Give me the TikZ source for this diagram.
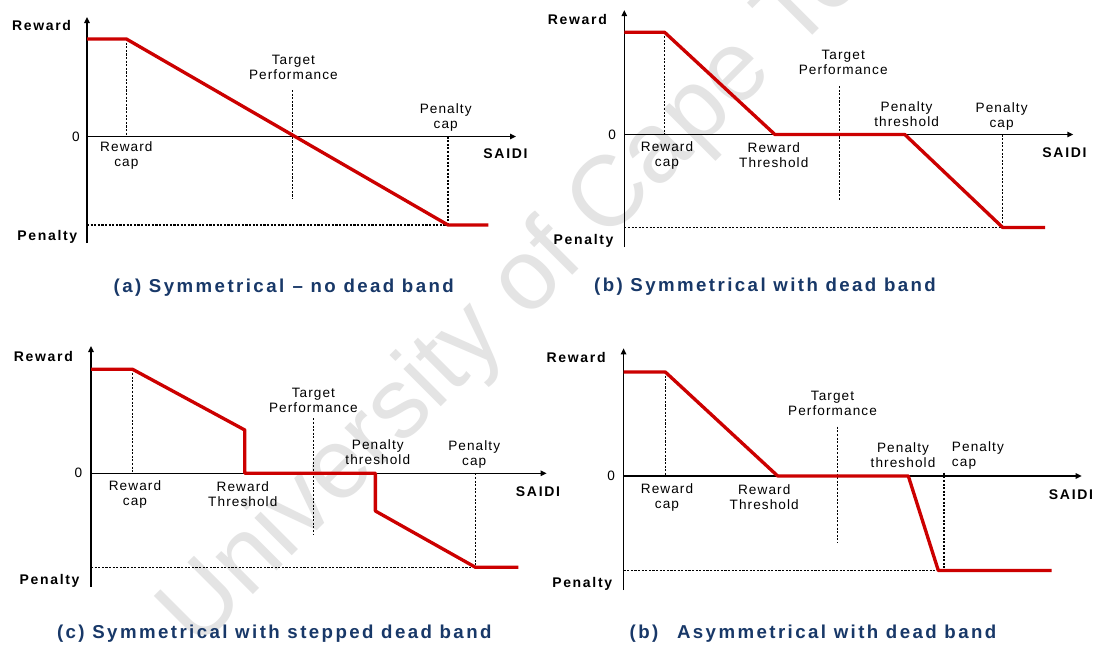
\documentclass[tikz,border=0pt]{standalone}
\usepackage{fontspec}
\setmainfont{Liberation Sans}
\newfontfamily\lblfam[LetterSpace=8]{Liberation Sans}
\newfontfamily\axfam[LetterSpace=12]{Liberation Sans}
\newfontfamily\capfam[LetterSpace=13]{Liberation Sans}
\usetikzlibrary{arrows.meta}
\definecolor{capblue}{RGB}{24,56,104}
\definecolor{curvered}{RGB}{204,0,0}
\definecolor{markgray}{RGB}{228,228,228}
\newcommand\lblfont{\lblfam\fontsize{10.2}{11.25}\selectfont}
\newcommand\axfont{\axfam\bfseries\fontsize{10.5}{12}\selectfont}
\newcommand\capfont{\capfam\bfseries\fontsize{14}{15}\selectfont}
\tikzset{
  axis/.style={line width=1.1pt,-{Triangle[length=4.5pt,width=4pt]}},
  vaxis/.style={line width=1.1pt},
  curve/.style={curvered,line width=2.5pt,line join=round},
  guide/.style={line width=0.85pt,dash pattern=on 1.6pt off 1.1pt},
  lab/.style={font=\lblfont,align=center,inner sep=0pt},
  axlab/.style={font=\axfont,inner sep=0pt},
  caption/.style={font=\capfont,text=capblue,inner sep=0pt},
  wmark/.style={font=\fontsize{75}{75}\selectfont,text=markgray,inner sep=0pt,rotate=45,anchor=base west}
}
\begin{document}
\begin{tikzpicture}[x=0.75pt,y=-0.75pt]
\useasboundingbox (0,0) rectangle (1098,646);
\fill[white] (0,0) rectangle (1098,646);

% watermark behind the four charts
\node[wmark] (wm) at (197,651) {University of Cape Town};

% ---------------- (a) symmetrical, no dead band ----------------
\coordinate (aO) at (87,136.5);
\coordinate (aT) at (87,17);
\coordinate (aB) at (87,243);
\coordinate (aX) at (516,136.5);
\coordinate (aR0) at (87,39);
\coordinate (aR1) at (126.4,39);
\coordinate (aP1) at (448,225);
\coordinate (aP2) at (488.3,225);
\coordinate (aPL) at (87,225);
\coordinate (aRC) at (126.4,136.5);
\coordinate (aPC) at (448,136.5);
\coordinate (aTt) at (292.7,90);
\coordinate (aTb) at (292.7,199);
\draw[guide] (aR1) -- (aRC);
\draw[guide] (aTt) -- (aTb);
\draw[guide] (aPC) -- (aP1);
\draw[guide] (aPL) -- (aP1);
\draw[vaxis] (aB) -- (aO);
\draw[axis] (aO) -- (aT);
\draw[axis] (aO) -- (aX);
\draw[curve] (aR0) -- (aR1) -- (aP1) -- (aP2);
\node[axlab] (aRew) at (41.5,25) {Reward};
\node[lab] (aZero) at (75.8,137) {0};
\node[axlab] (aPen) at (47.3,237) {Penalty};
\node[lab] (aRcap) at (126.4,155.5) {Reward\\cap};
\node[lab] (aTgt) at (293.4,67.5) {Target\\Performance};
\node[lab] (aPcap) at (445.7,117.5) {Penalty\\cap};
\node[axlab] (aSaidi) at (505.5,154) {SAIDI};
\node[caption] (aCap) at (283.8,288) {(a) Symmetrical\hspace{0.45em}\textendash\ no dead band};

% ---------------- (b) symmetrical with dead band ----------------
\coordinate (bO) at (624.3,134.5);
\coordinate (bT) at (624.3,10);
\coordinate (bB) at (624.3,247);
\coordinate (bX) at (1073.3,134.5);
\coordinate (bR0) at (624.3,32.3);
\coordinate (bR1) at (664.6,32.3);
\coordinate (bRT) at (774.9,134.5);
\coordinate (bPT) at (904.8,134.5);
\coordinate (bP1) at (1002.7,227.5);
\coordinate (bP2) at (1045,227.5);
\coordinate (bPL) at (624.3,227.5);
\coordinate (bRC) at (664.6,134.5);
\coordinate (bPC) at (1002.7,134.5);
\coordinate (bTt) at (839.7,86);
\coordinate (bTb) at (839.7,200);
\draw[guide] (bR1) -- (bRC);
\draw[guide] (bTt) -- (bTb);
\draw[guide] (bPC) -- (bP1);
\draw[guide] (bPL) -- (bP1);
\draw[vaxis] (bB) -- (bO);
\draw[axis] (bO) -- (bT);
\draw[axis] (bO) -- (bX);
\draw[curve] (bR0) -- (bR1) -- (bRT) -- (bPT) -- (bP1) -- (bP2);
\node[axlab] (bRew) at (577.4,19) {Reward};
\node[lab] (bZero) at (612.2,135) {0};
\node[axlab] (bPen) at (583.6,240.7) {Penalty};
\node[lab] (bRcap) at (667,155.5) {Reward\\cap};
\node[lab] (bRthr) at (773.8,155.5) {Reward\\Threshold};
\node[lab] (bTgt) at (843.2,62.5) {Target\\Performance};
\node[lab] (bPthr) at (906.6,114.2) {Penalty\\threshold};
\node[lab] (bPcap) at (1001.6,116) {Penalty\\cap};
\node[axlab] (bSaidi) at (1064.5,152.7) {SAIDI};
\node[caption] (bCap) at (765,287) {(b) Symmetrical with dead band};

% ---------------- (c) symmetrical with stepped dead band ----------------
\coordinate (cO) at (91,473.3);
\coordinate (cT) at (91,346);
\coordinate (cB) at (91,586.7);
\coordinate (cX) at (546.7,473.3);
\coordinate (cR0) at (91,369.3);
\coordinate (cR1) at (132.6,369.3);
\coordinate (cS1) at (244.8,430);
\coordinate (cRT) at (244.8,473.3);
\coordinate (cPT) at (375.4,473.3);
\coordinate (cS2) at (375.4,511);
\coordinate (cP1) at (475.5,567.3);
\coordinate (cP2) at (518.3,567.3);
\coordinate (cPL) at (91,567.3);
\coordinate (cRC) at (132.6,473.3);
\coordinate (cPC) at (475.5,473.3);
\coordinate (cTt) at (313.2,418.3);
\coordinate (cTb) at (313.2,535);
\draw[guide] (cR1) -- (cRC);
\draw[guide] (cTt) -- (cTb);
\draw[guide] (cPC) -- (cP1);
\draw[guide] (cPL) -- (cP1);
\draw[vaxis] (cB) -- (cO);
\draw[axis] (cO) -- (cT);
\draw[axis] (cO) -- (cX);
\draw[curve] (cR0) -- (cR1) -- (cS1) -- (cRT) -- (cPT) -- (cS2) -- (cP1) -- (cP2);
\node[axlab] (cRew) at (43.4,356) {Reward};
\node[lab] (cZero) at (78.5,473.3) {0};
\node[axlab] (cPen) at (49.6,580.7) {Penalty};
\node[lab] (cRcap) at (135,494.3) {Reward\\cap};
\node[lab] (cRthr) at (242.8,494.3) {Reward\\Threshold};
\node[lab] (cTgt) at (313.4,400.3) {Target\\Performance};
\node[lab] (cPthr) at (377.8,452.2) {Penalty\\threshold};
\node[lab] (cPcap) at (474.2,454.7) {Penalty\\cap};
\node[axlab] (cSaidi) at (538,491.7) {SAIDI};
\node[caption] (cCap) at (274.3,634) {(c) Symmetrical with stepped dead band};

% ---------------- (d) asymmetrical with dead band ----------------
\coordinate (dO) at (623.6,476);
\coordinate (dT) at (623.6,348.3);
\coordinate (dB) at (623.6,590);
\coordinate (dX) at (1081.7,476);
\coordinate (dR0) at (623.6,372);
\coordinate (dR1) at (665.3,372);
\coordinate (dRT) at (777.7,476);
\coordinate (dPT) at (908.3,476);
\coordinate (dP1) at (938.3,570.5);
\coordinate (dP2) at (1051.7,570.5);
\coordinate (dPL) at (623.6,570.5);
\coordinate (dRC) at (665.3,476);
\coordinate (dPCt) at (944,472.7);
\coordinate (dPCb) at (944,570.5);
\coordinate (dTt) at (837.9,426.7);
\coordinate (dTb) at (837.9,542.3);
\draw[guide] (dR1) -- (dRC);
\draw[guide] (dTt) -- (dTb);
\draw[guide] (dPCt) -- (dPCb);
\draw[guide] (dPL) -- (dP1);
\draw[vaxis] (dB) -- (dO);
\draw[axis] (dO) -- (dT);
\draw[axis] (dO) -- (dX);
\draw[curve] (dR0) -- (dR1) -- (dRT) -- (dPT) -- (dP1) -- (dP2);
\node[axlab] (dRew) at (576.1,357.7) {Reward};
\node[lab] (dZero) at (611.2,476) {0};
\node[axlab] (dPen) at (582.2,584) {Penalty};
\node[lab] (dRcap) at (667,497.5) {Reward\\cap};
\node[lab] (dRthr) at (764.2,497.5) {Reward\\Threshold};
\node[lab] (dTgt) at (832.5,403) {Target\\Performance};
\node[lab] (dPthr) at (903,455.3) {Penalty\\threshold};
\node[lab,align=left,anchor=west] (dPcap) at (951.7,455.3) {Penalty\\cap};
\node[axlab] (dSaidi) at (1071,494.3) {SAIDI};
\node[caption] (dCap) at (813,634) {(b)\hspace{1em}Asymmetrical with dead band};
\end{tikzpicture}
\end{document}
